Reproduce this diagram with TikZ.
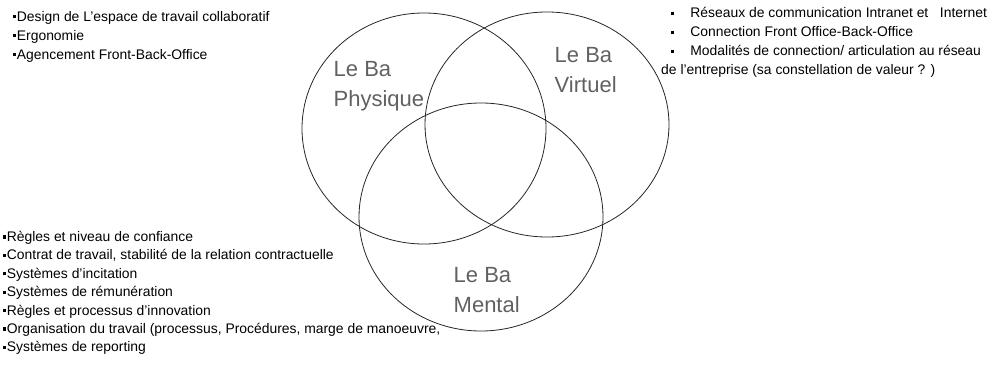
\documentclass[tikz,border=0pt]{standalone}
\usepackage{fontspec}
\setmainfont{Liberation Sans}
\newcommand\sqbul{\rule[2.8pt]{3.2pt}{3.2pt}}
\begin{document}
\begin{tikzpicture}[x=1pt,y=1pt,
  ring/.style={draw=black!85, line width=0.8pt},
  balabel/.style={text=black!62, font=\fontsize{22}{30}\selectfont, align=left, inner sep=0pt, anchor=north west},
  itemlist/.style={font=\fontsize{13.9}{19}\selectfont, align=left, inner sep=0pt, anchor=north west}]
\useasboundingbox (0,0) rectangle (998,367);

% the three overlapping spheres of Ba
\draw[ring] (424,238.5) ellipse [x radius=122, y radius=115.5];
\draw[ring] (547,242.5) ellipse [x radius=122, y radius=112.5];
\draw[ring] (481,150) ellipse [x radius=122, y radius=114];

\node[balabel] (physique) at (333.5,306) {Le Ba\\Physique};
\node[balabel] (virtuel) at (554.5,319.5) {Le Ba\\Virtuel};
\node[balabel] (mental) at (453.5,99.5) {Le Ba\\Mental};

% item lists attached to each sphere
\node[itemlist] (physlist) at (12.5,356) {%
\sqbul\hspace{1pt}Design de L'espace de travail collaboratif\\
\sqbul\hspace{1pt}Ergonomie\\
\sqbul\hspace{1pt}Agencement Front-Back-Office};

\node[itemlist] (virtlist) at (661,359.5) {%
\hspace*{10pt}\sqbul\hspace{16pt}Réseaux de communication Intranet et \ \ Internet\\
\hspace*{10pt}\sqbul\hspace{16pt}Connection Front Office-Back-Office\\
\hspace*{10pt}\sqbul\hspace{16pt}Modalités de connection/ articulation au réseau\\
de l'entreprise (sa constellation de valeur ? )};

\node[itemlist, font=\fontsize{13.9}{18.4}\selectfont] (mentlist) at (2.5,136) {%
\sqbul\hspace{1pt}Règles et niveau de confiance\\
\sqbul\hspace{1pt}Contrat de travail, stabilité de la relation contractuelle\\
\sqbul\hspace{1pt}Systèmes d'incitation\\
\sqbul\hspace{1pt}Systèmes de rémunération\\
\sqbul\hspace{1pt}Règles et processus d'innovation\\
\sqbul\hspace{1pt}Organisation du travail (processus, Procédures, marge de manoeuvre,\\
\sqbul\hspace{1pt}Systèmes de reporting};
\end{tikzpicture}
\end{document}
